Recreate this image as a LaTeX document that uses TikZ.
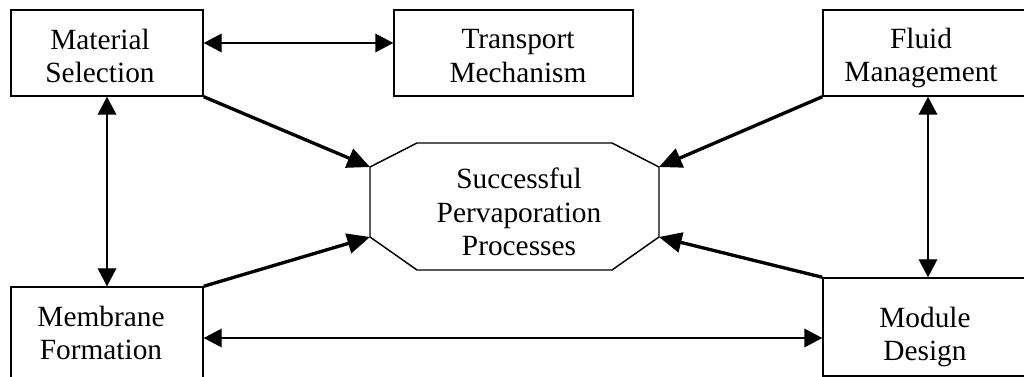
\documentclass[tikz,border=0pt]{standalone}
\usepackage{fontspec}
\setmainfont{Liberation Serif}
\usetikzlibrary{arrows.meta}
\begin{document}
\begin{tikzpicture}[x=0.75pt,y=-0.75pt,
  box/.style={draw, line width=1.1pt, rectangle, inner sep=0pt},
  lbl/.style={align=center, font=\fontsize{22}{25.2}\selectfont, inner sep=0pt},
  dbl/.style={line width=1.1pt,
    {Triangle[length=13.5pt,width=14pt]}-{Triangle[length=13.5pt,width=14pt]}},
  heavy/.style={line width=2.5pt, -{Triangle[length=17pt,width=15pt]}},
  octa/.style={line width=1.1pt, line join=miter}
]
\fill[white] (0,0) rectangle (1024,377);
\clip (0,0) rectangle (1024,377);

% boxes
\node[box, minimum width=144pt, minimum height=64.5pt] (ms) at (107,53) {};
\node[box, minimum width=179.25pt, minimum height=64.5pt] (tm) at (513.5,53) {};
\node[box, minimum width=153pt, minimum height=64.5pt] (fm) at (925,53) {};
\node[box, minimum width=144pt, minimum height=73.5pt] (mf) at (107,336) {};
\node[box, minimum width=153pt, minimum height=73.5pt] (md) at (925,327) {};

% labels
\node[lbl] (mst) at (100,56) {Material\\Selection};
\node[lbl] (tmt) at (518,56) {Transport\\Mechanism};
\node[lbl] (fmt) at (921,58) {Fluid\\Management};
\node[lbl] (mft) at (101,333) {Membrane\\Formation};
\node[lbl] (mdt) at (925,337) {Module\\Design};

% central octagon
\coordinate (oTL) at (417,143);
\coordinate (oTR) at (612,143);
\coordinate (oUR) at (659,167);
\coordinate (oLR) at (659,237);
\coordinate (oBR) at (612,270);
\coordinate (oBL) at (417,270);
\coordinate (oLL) at (370,237);
\coordinate (oUL) at (370,167);
\draw[octa] (oTL) -- (oTR) -- (oUR) -- (oLR) -- (oBR) -- (oBL) -- (oLL) -- (oUL) -- cycle;
\node[lbl] (spp) at (519,212) {Successful\\Pervaporation\\Processes};

% levels of the straight double arrows
\coordinate (row1) at (0,43);
\coordinate (row3) at (0,338);
\coordinate (col2) at (928,0);

% double-headed links
\draw[dbl] (ms.east |- row1) -- (tm.west |- row1);
\draw[dbl] (ms.south) -- (mf.north);
\draw[dbl] (fm.south -| col2) -- (md.north -| col2);
\draw[dbl] (mf.east |- row3) -- (md.west |- row3);

% heavy arrows into the octagon
\draw[heavy] (ms.south east) -- (oUL);
\draw[heavy] (mf.north east) -- (oLL);
\draw[heavy] (fm.south west) -- (oUR);
\draw[heavy] (md.north west) -- (oLR);
\end{tikzpicture}
\end{document}
